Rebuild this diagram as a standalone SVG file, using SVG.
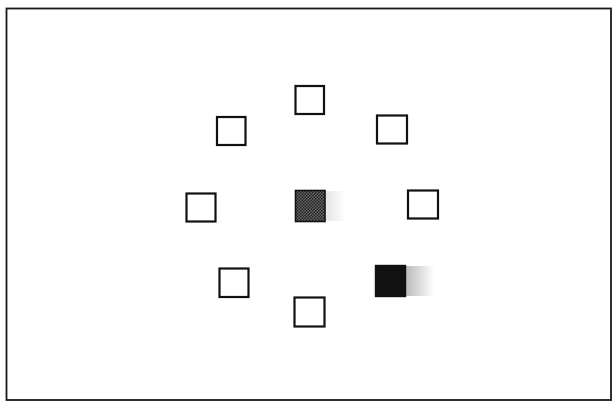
<svg xmlns="http://www.w3.org/2000/svg" width="615" height="402" viewBox="0 0 615 402">
<defs>
<style>
.box{fill:#fff;stroke:#111;stroke-width:2.2}
.frame{fill:#fff;stroke:#1a1a1a;stroke-width:1.8}
</style>
<pattern id="dots" width="3" height="3" patternUnits="userSpaceOnUse">
<rect width="3" height="3" fill="#666"/>
<rect width="1.5" height="1.5" fill="#222"/>
<rect x="1.5" y="1.5" width="1.5" height="1.5" fill="#222"/>
</pattern>
<linearGradient id="fade1" x1="0" x2="1" y1="0" y2="0">
<stop offset="0" stop-color="#e6e6e6"/>
<stop offset="1" stop-color="#fff"/>
</linearGradient>
<linearGradient id="fade2" x1="0" x2="1" y1="0" y2="0">
<stop offset="0" stop-color="#bbb"/>
<stop offset="1" stop-color="#fff"/>
</linearGradient>
</defs>
<rect class="frame" x="6.5" y="8.5" width="604.5" height="391.5"/>
<g id="n-top"><rect class="box" x="295.5" y="86" width="28.5" height="28"/></g>
<g id="n-upper-left"><rect class="box" x="217" y="117" width="28.5" height="28"/></g>
<g id="n-upper-right"><rect class="box" x="377" y="115.5" width="30" height="28"/></g>
<g id="n-left"><rect class="box" x="186.5" y="193.5" width="29" height="28"/></g>
<g id="n-right"><rect class="box" x="408" y="190.5" width="30" height="28"/></g>
<g id="n-lower-left"><rect class="box" x="219.5" y="268.5" width="29" height="28.5"/></g>
<g id="n-bottom"><rect class="box" x="294.5" y="297.5" width="30" height="29"/></g>
<g id="n-center">
<rect x="326" y="191" width="20" height="30" fill="url(#fade1)"/>
<rect x="295.5" y="190.5" width="29.5" height="31" fill="url(#dots)" stroke="#111" stroke-width="1.6"/>
</g>
<g id="n-lower-right">
<rect x="406" y="266" width="28" height="30" fill="url(#fade2)"/>
<rect x="375.5" y="265.5" width="30" height="31" fill="#111" stroke="#111" stroke-width="1.4"/>
</g>
<g id="connectors"></g>
</svg>
